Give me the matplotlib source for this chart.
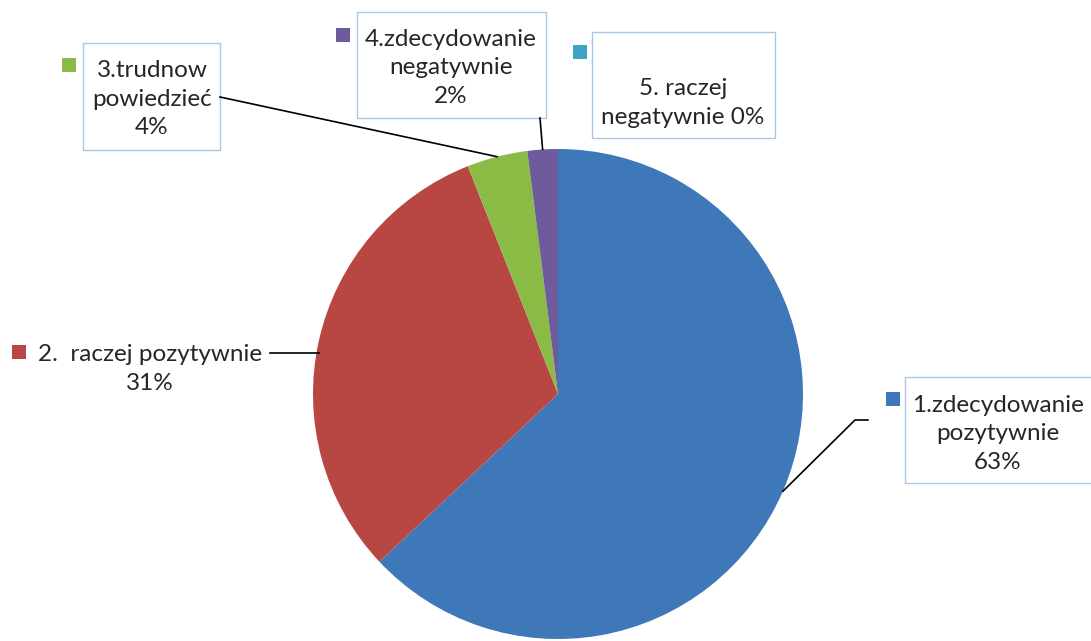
import numpy as np
import matplotlib
matplotlib.use("Agg")
import matplotlib.pyplot as plt
from matplotlib.patches import Rectangle

# data
categories = ["1.zdecydowanie\npozytywnie", "2.  raczej pozytywnie", "3.trudnow\npowiedzieć",
              "4.zdecydowanie\nnegatywnie", "5. raczej\nnegatywnie"]
values = [63, 31, 4, 2, 0]
colors = ["#3f78b8", "#b84744", "#89bb45", "#6d5b9c", "#3ea3c6"]

W, H = 1091, 641
plt.rcParams['font.family'] = ['Lato', 'DejaVu Sans']

fig = plt.figure(figsize=(W / 100, H / 100), dpi=100)
ax = fig.add_axes([0, 0, 1, 1])

cx, cy, r = 558, H - 394, 245
wedges, _ = ax.pie(values, colors=colors, startangle=90, counterclock=False,
                   center=(cx, cy), radius=r, wedgeprops=dict(linewidth=0))
ax.set_xlim(0, W)
ax.set_ylim(0, H)
ax.set_aspect('equal')
ax.axis('off')

# anchor on pie edge at middle of each wedge
total = sum(values)
angles = []
start = 90.0
for v in values:
    span = v / total * 360
    angles.append(np.deg2rad(start - span / 2))
    start -= span
anchors = [(cx + r * np.cos(a), cy + r * np.sin(a)) for a in angles]

box_col = "#a9c8e6"
fs = 17.5
ls = 1.42
tc = "#262626"

def y(v):
    return H - v

def box(x0, y0, x1, y1):
    ax.add_patch(Rectangle((x0, y(y1)), x1 - x0, y1 - y0, fill=False,
                           edgecolor=box_col, linewidth=1.0))

def key(x0, y0, c):
    ax.add_patch(Rectangle((x0, y(y0 + 14)), 14, 14, facecolor=c, edgecolor='none'))

pct = [f"{v}%" for v in values]

# label 1
box(905, 377, 1095, 483)
key(886, 392, colors[0])
ax.text(998, y(434), categories[0] + "\n" + pct[0], ha='center', va='center',
        fontsize=fs, linespacing=ls, color=tc)
ax.plot([anchors[0][0], 855, 868], [anchors[0][1], y(420), y(420)], color='black', lw=1.2)

# label 2
key(12, 345, colors[1])
ax.text(150, y(369), categories[1] + "\n" + pct[1], ha='center', va='center',
        fontsize=fs, linespacing=ls, color=tc)
ax.plot([270, anchors[1][0]], [y(353), y(353)], color='black', lw=1.2)

# label 3
box(83, 43, 220, 150)
key(62, 58, colors[2])
ax.text(152, y(99), categories[2] + "\n" + pct[2], ha='center', va='center',
        fontsize=fs, linespacing=ls, color=tc)
ax.plot([220, anchors[2][0]], [y(97), anchors[2][1]], color='black', lw=1.2)

# label 4
box(357, 12, 546, 118)
key(336, 28, colors[3])
ax.text(451, y(68), categories[3] + "\n" + pct[3], ha='center', va='center',
        fontsize=fs, linespacing=ls, color=tc)
ax.plot([540, anchors[3][0]], [y(118), anchors[3][1]], color='black', lw=1.2)

# label 5
box(592, 32, 775, 138)
key(573, 45, colors[4])
ax.text(683, y(103), "5. raczej\nnegatywnie " + pct[4], ha='center', va='center',
        fontsize=fs, linespacing=ls, color=tc)

fig.savefig("out.png", dpi=100)
